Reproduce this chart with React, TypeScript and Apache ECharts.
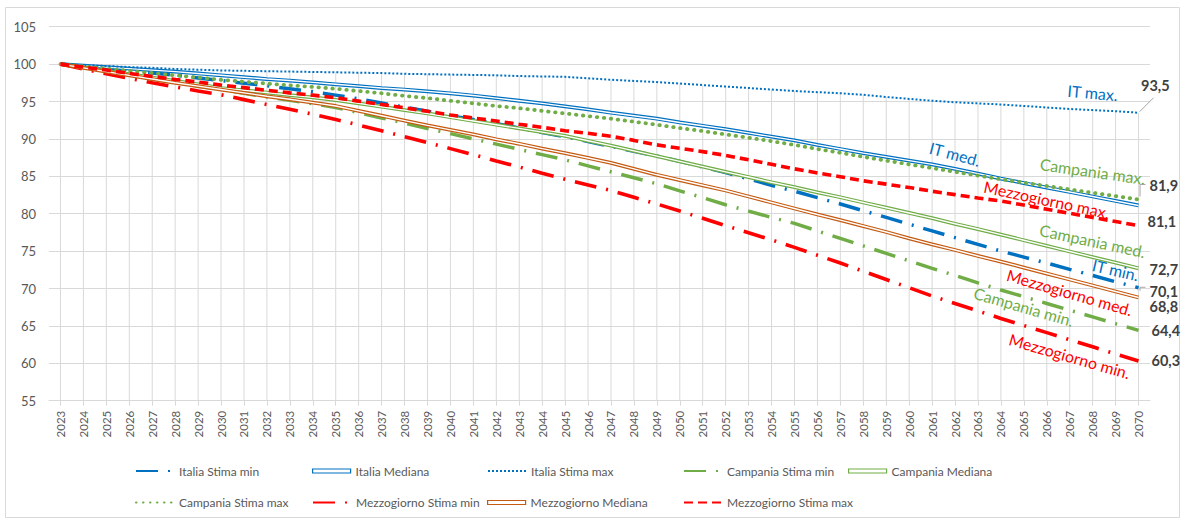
import React, { useEffect, useRef } from "react";
import * as echarts from "echarts";

const YEARS = [
  "2023","2024","2025","2026","2027","2028","2029","2030","2031","2032","2033","2034",
  "2035","2036","2037","2038","2039","2040","2041","2042","2043","2044","2045","2046",
  "2047","2048","2049","2050","2051","2052","2053","2054","2055","2056","2057","2058",
  "2059","2060","2061","2062","2063","2064","2065","2066","2067","2068","2069","2070",
];

const Y_TICKS = { min: 55, max: 105, step: 5 };

const IT_MIN = [100,99.7,99.4,99.1,98.8,98.5,98.15,97.8,97.45,97.1,96.7,96.3,95.85,95.35,94.8,94.25,93.7,93.1,92.6,92.05,91.45,90.85,90.3,89.65,89.0,88.35,87.7,87.0,86.25,85.5,84.65,83.8,83.0,82.15,81.3,80.4,79.5,78.6,77.7,76.8,75.9,75.0,74.2,73.4,72.55,71.75,70.9,70.1];
const IT_MED = [100,99.8,99.6,99.4,99.2,99.0,98.75,98.5,98.25,98.0,97.8,97.55,97.3,97.05,96.8,96.6,96.35,96.1,95.8,95.45,95.1,94.75,94.35,93.95,93.5,93.1,92.7,92.2,91.75,91.3,90.8,90.3,89.8,89.2,88.65,88.1,87.6,87.1,86.6,86.0,85.35,84.7,84.1,83.5,82.9,82.3,81.7,81.1];
const IT_MAX = [100,99.85,99.75,99.6,99.5,99.35,99.25,99.15,99.1,99.05,99.0,98.95,98.9,98.85,98.8,98.7,98.65,98.6,98.55,98.5,98.4,98.35,98.3,98.1,97.9,97.75,97.6,97.4,97.2,97.0,96.8,96.6,96.4,96.25,96.1,95.9,95.6,95.35,95.1,94.9,94.75,94.6,94.4,94.2,94.0,93.85,93.7,93.5];
const CA_MIN = [100,99.5,99.0,98.5,98.0,97.5,97.05,96.6,96.1,95.6,95.15,94.7,94.2,93.5,92.8,92.1,91.4,90.7,90.0,89.3,88.6,87.9,87.2,86.4,85.6,84.8,84.0,83.05,82.15,81.2,80.35,79.5,78.7,77.7,76.7,75.7,74.7,73.7,72.7,71.75,70.75,69.8,68.9,68.0,67.1,66.2,65.3,64.4];
const CA_MED = [100,99.55,99.1,98.65,98.2,97.75,97.3,96.8,96.5,96.2,95.85,95.55,95.2,94.75,94.3,93.85,93.4,92.9,92.4,91.9,91.4,90.9,90.4,89.75,89.1,88.4,87.7,87.0,86.3,85.6,84.9,84.2,83.55,82.85,82.2,81.5,80.8,80.1,79.4,78.65,77.95,77.2,76.45,75.7,74.95,74.2,73.45,72.7];
const CA_MAX = [100,99.7,99.4,99.1,98.8,98.5,98.2,97.9,97.65,97.4,97.15,96.95,96.7,96.4,96.1,95.75,95.45,95.1,94.75,94.4,94.1,93.75,93.4,93.05,92.7,92.3,91.9,91.45,91.05,90.6,90.15,89.7,89.2,88.65,88.15,87.6,87.1,86.6,86.1,85.6,85.1,84.6,84.15,83.7,83.25,82.8,82.35,81.9];
const MZ_MIN = [100,99.35,98.7,98.1,97.5,96.95,96.4,95.9,95.25,94.6,93.95,93.3,92.6,91.85,91.1,90.3,89.5,88.7,87.9,87.05,86.25,85.4,84.6,83.85,83.1,82.2,81.3,80.35,79.4,78.4,77.45,76.5,75.5,74.45,73.4,72.3,71.2,70.1,69.0,68.0,67.0,66.0,65.05,64.1,63.15,62.2,61.25,60.3];
const MZ_MED = [100,99.5,99.0,98.5,98.0,97.5,97.05,96.6,96.15,95.7,95.3,94.85,94.4,93.75,93.1,92.45,91.8,91.2,90.6,89.95,89.35,88.7,88.1,87.45,86.8,86.0,85.2,84.5,83.8,83.1,82.3,81.5,80.7,79.9,79.15,78.35,77.55,76.7,75.9,75.15,74.35,73.6,72.8,72.0,71.2,70.4,69.6,68.8];
const MZ_MAX = [100,99.6,99.2,98.75,98.35,97.95,97.6,97.2,96.85,96.5,96.15,95.85,95.5,95.05,94.6,94.15,93.7,93.2,92.8,92.4,91.95,91.55,91.1,90.75,90.35,89.8,89.2,88.75,88.3,87.8,87.2,86.6,86.0,85.45,84.95,84.4,83.95,83.5,83.0,82.55,82.1,81.7,81.15,80.6,80.05,79.5,78.95,78.4];

const NAMES = [
  "Italia Stima min", "Italia Mediana", "Italia Stima max",
  "Campania Stima min", "Campania Mediana", "Campania Stima max",
  "Mezzogiorno Stima min", "Mezzogiorno Mediana", "Mezzogiorno Stima max",
];

// in-chart annotations: text, category index, value, rotation (deg, clockwise), colour key
const ANNOTATIONS: [string, number, number, number, string][] = [
  ["IT max.", 45.1, 96.2, 5, "blue"],
  ["IT med.", 38.6, 88.0, 15, "blue"],
  ["Campania max.", 44.5, 85.7, 8, "green"],
  ["Mezzogiorno max.", 42.9, 81.9, 12, "red"],
  ["Campania med.", 44.7, 76.4, 12, "green"],
  ["IT min.", 45.6, 72.5, 13, "blue"],
  ["Mezzogiorno med.", 44.2, 69.5, 16, "red"],
  ["Campania min.", 41.7, 67.6, 16, "green"],
  ["Mezzogiorno min.", 44.3, 61.0, 16, "red"],
];

const COL = { blue: "#0070C0", green: "#70AD47", red: "#FF0000", brown: "#C55A11" };
const GRID_C = "#d9d9d9";
const FONT = "Lato, 'Noto Sans', sans-serif";

const fmt = (v: number) => v.toFixed(1).replace(".", ",");

function endLbl(dx: number, dy: number) {
  return {
    show: true,
    distance: 0,
    offset: [dx, dy],
    align: "left",
    verticalAlign: "middle",
    color: "#404040",
    fontWeight: "bold",
    fontSize: 14.5,
    fontFamily: FONT,
    formatter: (p: any) => fmt(Array.isArray(p.value) ? p.value[1] : p.value),
  };
}

function line(name: string, data: number[], color: string, width: number, type: any, cap: string, extra: any = {}) {
  return {
    name,
    type: "line",
    data,
    symbol: "none",
    showSymbol: false,
    smooth: false,
    lineStyle: { color, width, type, cap },
    itemStyle: { color },
    ...extra,
  };
}

function inner(data: number[]) {
  return {
    name: "_inner",
    type: "line",
    data,
    symbol: "none",
    showSymbol: false,
    silent: true,
    lineStyle: { color: "#ffffff", width: 1.4 },
  };
}

const LEGEND_POS: [number, number, number][] = [
  // [series index in NAMES, left, top]
  [0, 135, 464], [1, 312, 464], [2, 487, 464], [3, 683, 464], [4, 848, 464],
  [5, 135, 495.5], [6, 312, 495.5], [7, 487, 495.5], [8, 683, 495.5],
];
const MEDIAN_COLORS: Record<number, string> = { 1: COL.blue, 4: COL.green, 7: COL.brown };

export default function App() {
  const ref = useRef<HTMLDivElement>(null);

  useEffect(() => {
    if (!ref.current) return;
    const chart = echarts.init(ref.current, undefined, { renderer: "svg" });

    const dash = [22, 10, 2, 10];
    const series: any[] = [
      {
        name: "_drop",
        type: "bar",
        data: IT_MAX,
        barWidth: 1,
        silent: true,
        itemStyle: { color: GRID_C },
      },
      line(NAMES[0], IT_MIN, COL.blue, 3.5, dash, "butt", { endLabel: endLbl(11, 3.5) }),
      line(NAMES[1], IT_MED, COL.blue, 3.8, "solid", "butt", { endLabel: endLbl(9, 16) }),
      inner(IT_MED),
      line(NAMES[2], IT_MAX, COL.blue, 2, [2, 2], "butt", { endLabel: endLbl(2.5, -27) }),
      line(NAMES[3], CA_MIN, COL.green, 3.5, dash, "butt", { endLabel: endLbl(13, 0) }),
      line(NAMES[4], CA_MED, COL.green, 3.8, "solid", "butt", { endLabel: endLbl(11, 1) }),
      inner(CA_MED),
      line(NAMES[5], CA_MAX, COL.green, 3.8, [0.5, 6.5], "round", { endLabel: endLbl(11, -14) }),
      line(NAMES[6], MZ_MIN, COL.red, 3.6, dash, "butt", { endLabel: endLbl(13, -1) }),
      line(NAMES[7], MZ_MED, COL.brown, 3.8, "solid", "butt", { endLabel: endLbl(11, 9) }),
      inner(MZ_MED),
      line(NAMES[8], MZ_MAX, COL.red, 3.6, [9, 5], "butt"),
    ];

    const legends = LEGEND_POS.map(([i, left, top]) => {
      const median = MEDIAN_COLORS[i];
      const item: any = median
        ? { name: NAMES[i], icon: "rect", itemStyle: { color: "#ffffff", borderColor: median, borderWidth: 1.2, opacity: 1 } }
        : { name: NAMES[i] };
      return {
        data: [item],
        left,
        top,
        padding: 0,
        itemWidth: 38,
        itemHeight: median ? 4 : 14,
        itemGap: 5,
        selectedMode: false,
        itemStyle: median ? undefined : { opacity: 0 },
        textStyle: { color: "#595959", fontSize: 12, fontFamily: FONT, lineHeight: 14 },
      };
    });

    chart.setOption({
      animation: false,
      backgroundColor: "#ffffff",
      textStyle: { fontFamily: FONT },
      grid: { left: 49, right: 32, top: 26.7, bottom: 122.3, containLabel: false },
      legend: legends,
      xAxis: {
        type: "category",
        data: YEARS,
        boundaryGap: true,
        axisLine: { show: true, lineStyle: { color: GRID_C } },
        axisTick: { show: true, alignWithLabel: true, length: 5, lineStyle: { color: GRID_C } },
        axisLabel: { rotate: 90, interval: 0, color: "#595959", fontSize: 11.5, fontFamily: FONT, margin: 10 },
        splitLine: { show: false },
      },
      yAxis: {
        type: "value",
        min: Y_TICKS.min,
        max: Y_TICKS.max,
        interval: Y_TICKS.step,
        startValue: Y_TICKS.min,
        axisLine: { show: false },
        axisTick: { show: false },
        axisLabel: { color: "#595959", fontSize: 13, fontFamily: FONT, margin: 13 },
        splitLine: { lineStyle: { color: GRID_C, width: 1 } },
      },
      series,
    });

    const px = (idx: number, v: number) => chart.convertToPixel({ gridIndex: 0 }, [idx, v]) as number[];
    const last = YEARS.length - 1;
    const graphics: any[] = [
      {
        type: "rect",
        silent: true,
        z: -10,
        shape: { x: 5.5, y: 7.5, width: 1174, height: 510 },
        style: { fill: "none", stroke: GRID_C, lineWidth: 1 },
      },
    ];
    ANNOTATIONS.forEach(([text, idx, v, rot, ck]) => {
      const [x, y] = px(idx, v);
      graphics.push({
        type: "text",
        x,
        y,
        rotation: (-rot * Math.PI) / 180,
        silent: true,
        z: 50,
        style: {
          text,
          fill: (COL as any)[ck],
          font: `16px ${FONT}`,
          align: "center",
          verticalAlign: "middle",
        },
      });
    });
    const leaderStyle = { stroke: "#a6a6a6", lineWidth: 1, fill: "none" };
    const pMax = px(last, IT_MAX[last]);
    graphics.push({
      type: "polyline",
      silent: true,
      z: 50,
      shape: { points: [[pMax[0] + 1, pMax[1] - 1], [pMax[0] + 15, pMax[1] - 15]] },
      style: leaderStyle,
    });
    const pCa = px(last, CA_MAX[last]);
    graphics.push({
      type: "polyline",
      silent: true,
      z: 50,
      shape: { points: [[pCa[0] + 1.5, pCa[1] - 3], [pCa[0] + 1.5, pCa[1] - 15], [pCa[0] + 7, pCa[1] - 15]] },
      style: leaderStyle,
    });
    const pIt = px(last, IT_MIN[last]);
    graphics.push({
      type: "polyline",
      silent: true,
      z: 50,
      shape: { points: [[pIt[0] + 7, pIt[1] - 0.5], [pIt[0] + 1.5, pIt[1] - 0.5], [pIt[0] + 1.5, pIt[1] + 3]] },
      style: leaderStyle,
    });
    chart.setOption({ graphic: graphics });

    return () => chart.dispose();
  }, []);

  return (
    <div
      ref={ref}
      style={{ position: "fixed", left: 0, top: 0, width: 1182, height: 523, background: "#fff" }}
    />
  );
}
